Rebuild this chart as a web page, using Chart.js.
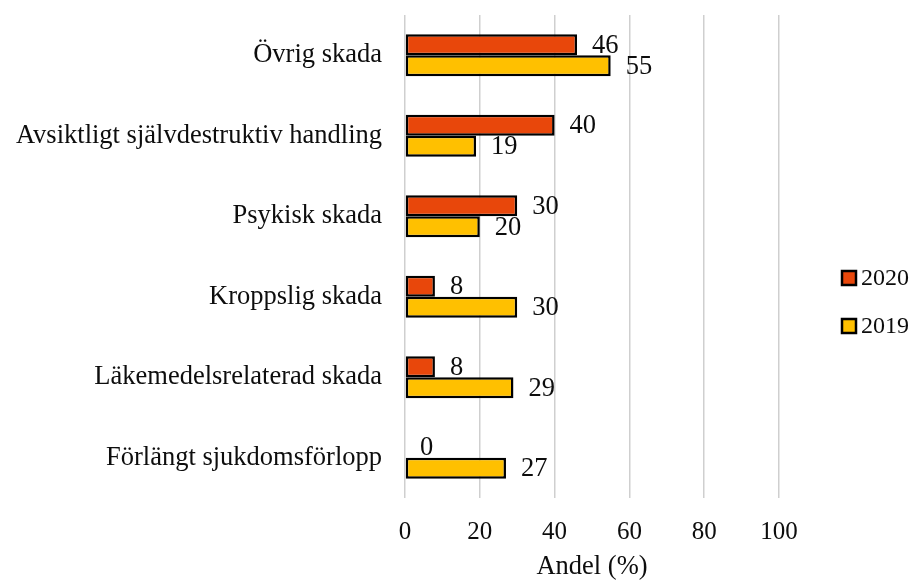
<!DOCTYPE html>
<html>
<head>
<meta charset="utf-8">
<script src="https://cdn.jsdelivr.net/npm/chart.js@4"></script>
<style>
  html, body { margin: 0; padding: 0; background: #fff; }
  #wrap { width: 915px; height: 580px; }
</style>
</head>
<body>
<div id="wrap"><canvas id="c" width="915" height="580"></canvas></div>
<script>
const categories = [
  "Övrig skada",
  "Avsiktligt självdestruktiv handling",
  "Psykisk skada",
  "Kroppslig skada",
  "Läkemedelsrelaterad skada",
  "Förlängt sjukdomsförlopp"
];
const values2020 = [46, 40, 30, 8, 8, 0];
const values2019 = [55, 19, 20, 30, 29, 27];
const seriesNames = ["2020", "2019"];
const xTicks = [0, 20, 40, 60, 80, 100];

const FONT = "'Liberation Serif', 'Times New Roman', serif";

const valueLabels = {
  id: 'valueLabels',
  afterDatasetsDraw(chart) {
    const ctx = chart.ctx;
    ctx.save();
    ctx.font = "26.5px " + FONT;
    ctx.fillStyle = "#0d0d0d";
    ctx.textAlign = "left";
    ctx.textBaseline = "middle";
    chart.data.datasets.forEach((ds, di) => {
      const meta = chart.getDatasetMeta(di);
      meta.data.forEach((el, i) => {
        ctx.fillText(String(ds.data[i]), el.x + 15, el.y + 1);
      });
    });
    ctx.restore();
  }
};

const sideLegend = {
  id: 'sideLegend',
  afterDraw(chart) {
    const ctx = chart.ctx;
    const a = chart.chartArea;
    ctx.save();
    ctx.font = "24px " + FONT;
    ctx.textAlign = "left";
    ctx.textBaseline = "middle";
    chart.data.datasets.forEach((ds, di) => {
      const cy = 278 + di * 48;
      const bx = a.right + 63;
      ctx.fillStyle = ds.backgroundColor;
      ctx.fillRect(bx, cy - 7, 14, 14);
      ctx.lineWidth = 2.5;
      ctx.strokeStyle = "#000";
      ctx.strokeRect(bx, cy - 7, 14, 14);
      ctx.fillStyle = "#0d0d0d";
      ctx.fillText(ds.label, bx + 19, cy + 1);
    });
    ctx.restore();
  }
};

new Chart(document.getElementById('c'), {
  type: 'bar',
  data: {
    labels: categories,
    datasets: [
      { label: seriesNames[0], data: values2020, backgroundColor: "#E8470B", borderColor: "#000", borderWidth: 2.5, borderSkipped: false },
      { label: seriesNames[1], data: values2019, backgroundColor: "#FFC000", borderColor: "#000", borderWidth: 2.5, borderSkipped: false }
    ]
  },
  options: {
    indexAxis: 'y',
    responsive: false,
    animation: false,
    layout: { padding: { top: 15, right: 136, left: 0, bottom: 0 } },
    plugins: {
      legend: { display: false },
      tooltip: { enabled: false }
    },
    datasets: { bar: { categoryPercentage: 0.52, barPercentage: 1.0 } },
    scales: {
      x: {
        type: 'linear',
        min: 0, max: 100,
        afterBuildTicks(scale) { scale.ticks = xTicks.map(v => ({ value: v })); },
        afterFit(scale) { scale.height = 82; scale.paddingLeft = 0; scale.paddingRight = 0; },
        grid: { color: "#cfcfcf", lineWidth: 1.5, drawTicks: false },
        border: { display: false },
        ticks: { padding: 19, color: "#0d0d0d", font: { family: FONT, size: 25 } },
        title: { display: true, text: "Andel (%)", color: "#0d0d0d", font: { family: FONT, size: 26.5, lineHeight: 1.0 }, padding: { top: 0, bottom: 0 } }
      },
      y: {
        afterFit(scale) { scale.width = 405; scale.paddingTop = 0; scale.paddingBottom = 0; },
        grid: { display: false, drawTicks: false },
        border: { display: false },
        ticks: { padding: 23, color: "#0d0d0d", font: { family: FONT, size: 26.5 } }
      }
    }
  },
  plugins: [valueLabels, sideLegend]
});
</script>
</body>
</html>
